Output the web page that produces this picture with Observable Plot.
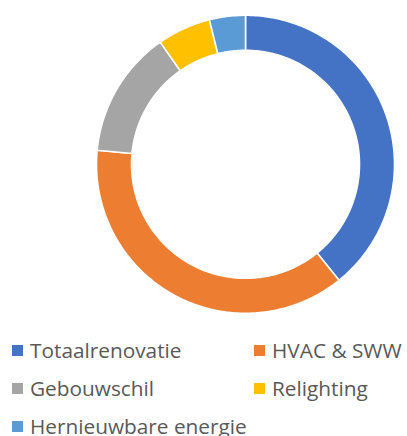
<!DOCTYPE html>
<html>
<head>
<meta charset="utf-8">
<script src="https://cdn.jsdelivr.net/npm/d3@7"></script>
<script src="https://cdn.jsdelivr.net/npm/@observablehq/plot@0.6"></script>
<style>
  html, body { margin: 0; padding: 0; background: #fff; }
  #chart { width: 407px; height: 436px; position: relative; overflow: hidden; }
  .legend { position: absolute; left: 0; top: 330px; width: 407px; font-family: "Open Sans", sans-serif; font-size: 20.8px; color: #595959; }
  .item { position: absolute; display: flex; align-items: center; white-space: nowrap; height: 26px; line-height: 26px; }
  .sw { width: 11px; height: 11px; margin-right: 7px; flex: none; }
</style>
</head>
<body>
<div id="chart"></div>
<script>
const categories = ["Totaalrenovatie", "HVAC & SWW", "Gebouwschil", "Relighting", "Hernieuwbare energie"];
const values = [39.2, 37.3, 13.8, 5.8, 3.9];
const colors = ["#4472C4", "#ED7D31", "#A5A5A5", "#FFC000", "#5B9BD5"];

const W = 407, H = 330;
const cx = 245, cy = 163.8, R = 149, innerRatio = 114 / 149;

// Build polygon vertices for each ring slice from d3.pie angles
const arcs = d3.pie().sort(null).value(d => d.value)(categories.map((c, i) => ({category: c, value: values[i]})));
const pts = [];
for (const a of arcs) {
  const n = Math.max(8, Math.ceil((a.endAngle - a.startAngle) * 60));
  const ring = [];
  for (let k = 0; k <= n; k++) {
    const t = a.startAngle + (a.endAngle - a.startAngle) * k / n;
    ring.push([Math.sin(t), Math.cos(t)]);
  }
  for (let k = n; k >= 0; k--) {
    const t = a.startAngle + (a.endAngle - a.startAngle) * k / n;
    ring.push([Math.sin(t) * innerRatio, Math.cos(t) * innerRatio]);
  }
  ring.push(ring[0]);
  for (const [x, y] of ring) pts.push({category: a.data.category, x, y});
}

const plot = Plot.plot({
  width: W, height: H,
  margin: 0,
  x: {domain: [-cx / R, (W - cx) / R], axis: null},
  y: {domain: [(cy - H) / R, cy / R], axis: null},
  color: {domain: categories, range: colors},
  marks: [
    Plot.line(pts, {x: "x", y: "y", z: "category", fill: "category", stroke: "white", strokeWidth: 1.6, strokeLinejoin: "round", curve: "linear"})
  ]
});
const chart = document.getElementById("chart");
chart.appendChild(plot);

const legend = document.createElement("div");
legend.className = "legend";
const positions = [[12, 7], [254, 7], [12, 45], [254, 45], [12, 83]];
categories.forEach((c, i) => {
  const it = document.createElement("div");
  it.className = "item";
  it.style.left = positions[i][0] + "px";
  it.style.top = positions[i][1] + "px";
  const sw = document.createElement("span");
  sw.className = "sw";
  sw.style.background = colors[i];
  const tx = document.createElement("span");
  tx.textContent = c;
  it.appendChild(sw); it.appendChild(tx);
  legend.appendChild(it);
});
chart.appendChild(legend);
</script>
</body>
</html>
